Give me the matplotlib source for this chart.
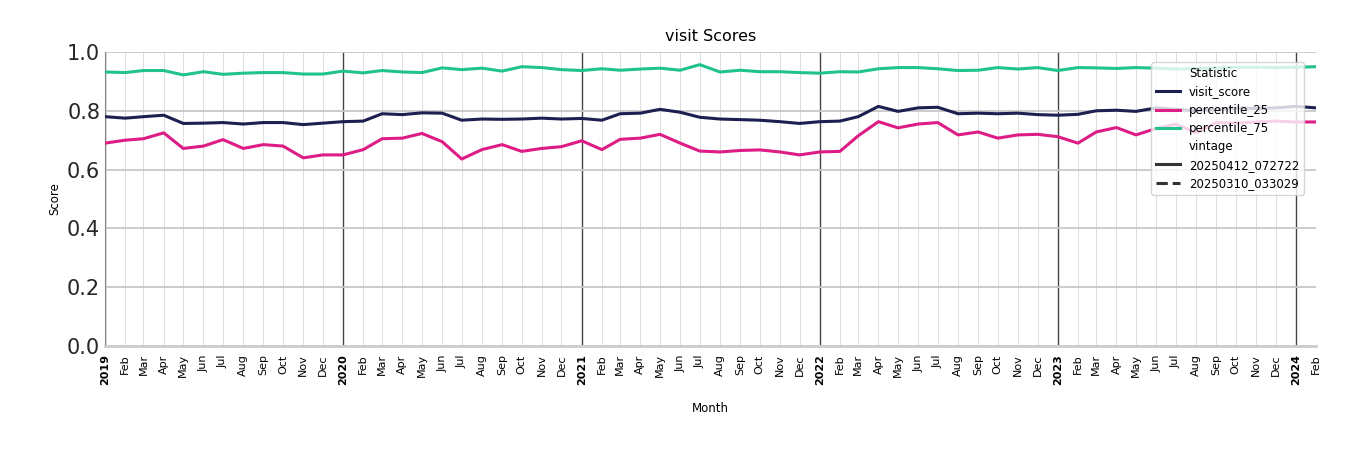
import matplotlib
matplotlib.use("Agg")
import matplotlib.pyplot as plt
from matplotlib.lines import Line2D
import pandas as pd

months = pd.date_range("2019-01-01", "2024-02-01", freq="MS")
visit_score = [0.78,0.775,0.78,0.785,0.757,0.758,0.76,0.755,0.76,0.76,0.753,0.758,
               0.763,0.765,0.79,0.787,0.793,0.792,0.768,0.772,0.771,0.772,0.775,0.772,
               0.774,0.768,0.79,0.792,0.805,0.795,0.778,0.772,0.77,0.768,0.763,0.757,
               0.763,0.765,0.78,0.815,0.798,0.81,0.812,0.79,0.792,0.79,0.792,0.787,
               0.785,0.788,0.8,0.802,0.798,0.81,0.805,0.8,0.805,0.81,0.808,0.81,
               0.815,0.81]
percentile_25 = [0.69,0.7,0.705,0.725,0.672,0.68,0.702,0.672,0.685,0.68,0.64,0.65,
                 0.65,0.668,0.705,0.707,0.723,0.695,0.636,0.668,0.685,0.662,0.672,0.678,
                 0.698,0.668,0.703,0.707,0.72,0.69,0.663,0.66,0.665,0.667,0.66,0.65,
                 0.66,0.662,0.715,0.763,0.742,0.755,0.76,0.718,0.728,0.707,0.718,0.72,
                 0.712,0.69,0.728,0.743,0.718,0.74,0.755,0.725,0.76,0.758,0.762,0.765,
                 0.762,0.762]
percentile_75 = [0.932,0.93,0.937,0.937,0.922,0.933,0.924,0.928,0.93,0.93,0.925,0.925,
                 0.935,0.929,0.937,0.932,0.93,0.946,0.94,0.945,0.935,0.95,0.947,0.94,
                 0.937,0.943,0.938,0.942,0.945,0.938,0.957,0.932,0.938,0.933,0.933,0.93,
                 0.928,0.933,0.932,0.943,0.947,0.947,0.943,0.937,0.938,0.947,0.942,0.947,
                 0.937,0.947,0.946,0.944,0.947,0.945,0.942,0.944,0.945,0.948,0.948,0.947,
                 0.948,0.95]
series = {"visit_score": (visit_score, "#1c1f4f"),
          "percentile_25": (percentile_25, "#dd1c86"),
          "percentile_75": (percentile_75, "#21c28e")}

fig = plt.figure(figsize=(13.5, 4.5), dpi=100)
ax = fig.add_axes([105/1350, 1-346/450, 1211/1350, 294/450])
for name, (vals, c) in series.items():
    ax.plot(months, vals, color=c, lw=2.2, label=name, zorder=3)

ax.set_xlim(months[0], months[-1])
ax.set_ylim(0, 1.0)
ax.set_yticks([0, 0.2, 0.4, 0.6, 0.8, 1.0])
ax.tick_params(axis="y", labelsize=15, length=0, colors="#262626")
ax.grid(axis="y", color="#c8c8c8", lw=1.3, zorder=0)
for m in months:
    if m.month == 1:
        ax.axvline(m, color="#444444", lw=1, zorder=1)
    else:
        ax.axvline(m, color="#dddddd", lw=0.7, zorder=0)
ax.set_xticks(months)
ax.set_xticklabels([str(m.year) if m.month == 1 else m.strftime("%b") for m in months],
                   rotation=90, fontsize=8)
for lab, m in zip(ax.get_xticklabels(), months):
    if m.month == 1:
        lab.set_fontweight("bold")
ax.tick_params(axis="x", length=0, pad=6)
for s in ["top", "right"]:
    ax.spines[s].set_visible(False)
ax.spines["left"].set_color("#888888")
ax.spines["bottom"].set_color("#cccccc")
ax.spines["bottom"].set_linewidth(2)
ax.set_xlabel("Month", fontsize=8.5, labelpad=12)
ax.set_ylabel("Score", fontsize=8.5)
ax.set_title("visit Scores", fontsize=11.5, pad=8)

handles = [Line2D([], [], color="none", label="Statistic")]
for name, (vals, c) in series.items():
    handles.append(Line2D([], [], color=c, lw=2.2, label=name))
handles += [Line2D([], [], color="none", label="vintage"),
            Line2D([], [], color="#333333", lw=2.2, label="20250412_072722"),
            Line2D([], [], color="#333333", lw=2.2, ls="--", label="20250310_033029")]
ax.legend(handles=handles, loc="upper right", bbox_to_anchor=(0.995, 0.985),
          fontsize=8.5, framealpha=0.8, handlelength=2, labelspacing=0.45)
fig.savefig("out.png", dpi=100)
